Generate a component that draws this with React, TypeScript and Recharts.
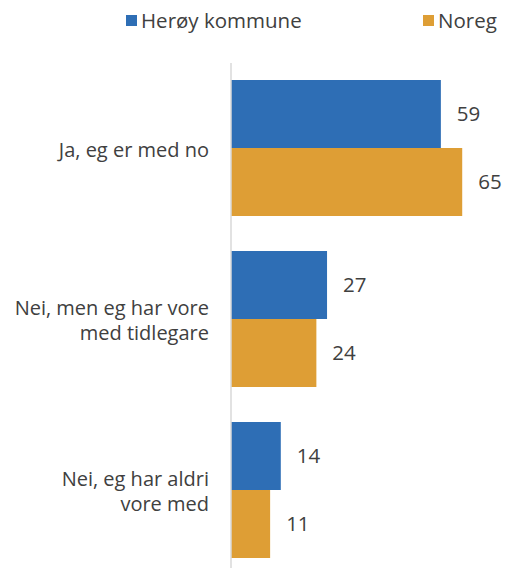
import { BarChart, Bar, XAxis, YAxis, LabelList } from 'recharts'

const categories = ['Ja, eg er med no', 'Nei, men eg har vore\nmed tidlegare', 'Nei, eg har aldri\nvore med']
const heroyValues = [59, 27, 14]
const noregValues = [65, 24, 11]
const seriesNames = ['Herøy kommune', 'Noreg']

const BLUE = '#2E6EB5'
const ORANGE = '#DE9E35'
const TEXT = '#404040'
const FONT = '"Open Sans", Roboto, sans-serif'

const data = categories.map((c, i) => ({
  category: c,
  heroy: heroyValues[i],
  noreg: noregValues[i],
}))

// multi-line category labels, right aligned against the axis
const CategoryTick = ({ y, payload }: any) => {
  const lines = String(payload.value).split('\n')
  const lineHeight = 25
  const startY = y - ((lines.length - 1) * lineHeight) / 2
  const tx = 209
  return (
    <text x={tx} y={startY} textAnchor="end" fill={TEXT} fontSize={20} fontFamily={FONT} dominantBaseline="central">
      {lines.map((line, i) => (
        <tspan key={i} x={tx} y={startY + i * lineHeight}>
          {line}
        </tspan>
      ))}
    </text>
  )
}

const LegendItem = ({ color, label, left }: { color: string; label: string; left: number }) => (
  <div style={{ position: 'absolute', left, top: 6, display: 'flex', alignItems: 'center', fontFamily: FONT, fontSize: 20.5, color: TEXT }}>
    <span style={{ display: 'inline-block', width: 11, height: 11, background: color, marginRight: 4 }} />
    {label}
  </div>
)

export default function App() {
  return (
    <div style={{ position: 'absolute', left: 0, top: 0, width: 507, height: 600, background: '#fff' }}>
      <LegendItem color={BLUE} label={seriesNames[0]} left={126} />
      <LegendItem color={ORANGE} label={seriesNames[1]} left={423} />
      <BarChart
        width={507}
        height={600}
        data={data}
        layout="vertical"
        margin={{ top: 63, right: 27, bottom: 24, left: 0 }}
        barCategoryGap="10%"
        barGap={0}
      >
        <XAxis type="number" domain={[0, 70]} hide />
        <YAxis
          type="category"
          dataKey="category"
          width={231}
          tickLine={false}
          axisLine={{ stroke: '#d9d9d9', strokeWidth: 1.5 }}
          tick={<CategoryTick />}
        />
        <Bar dataKey="heroy" name={seriesNames[0]} fill={BLUE} isAnimationActive={false}>
          <LabelList dataKey="heroy" position="right" offset={16} fill={TEXT} fontSize={20.5} fontFamily={FONT} />
        </Bar>
        <Bar dataKey="noreg" name={seriesNames[1]} fill={ORANGE} isAnimationActive={false}>
          <LabelList dataKey="noreg" position="right" offset={16} fill={TEXT} fontSize={20.5} fontFamily={FONT} />
        </Bar>
      </BarChart>
    </div>
  )
}
